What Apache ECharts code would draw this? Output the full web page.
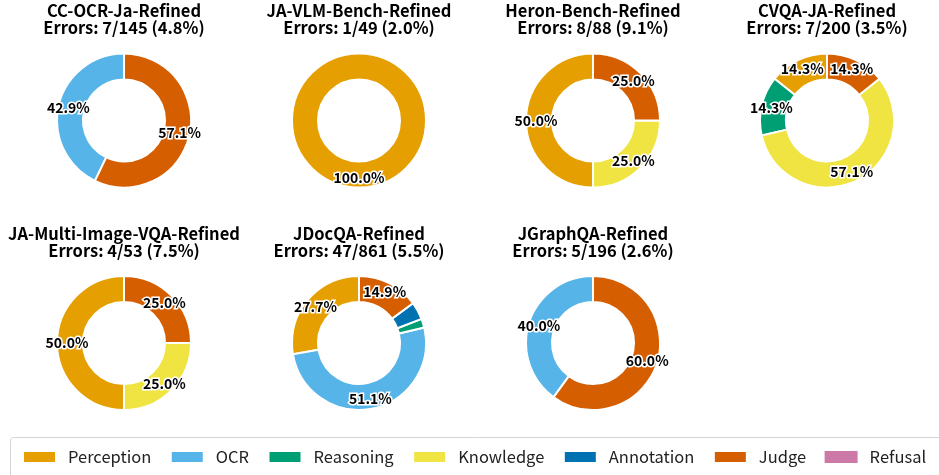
<!DOCTYPE html>
<html>
<head>
<meta charset="utf-8">
<script src="https://cdn.jsdelivr.net/npm/echarts@6/dist/echarts.min.js"></script>
<style>
html,body{margin:0;padding:0;background:#fff;}
#chart{width:939px;height:475px;}
</style>
</head>
<body>
<div id="chart"></div>
<script>
// ---- data ----
var categories = ['Perception', 'OCR', 'Reasoning', 'Knowledge', 'Annotation', 'Judge', 'Refusal'];
var colors = ['#E69F00', '#56B4E9', '#009E73', '#F0E442', '#0072B2', '#D55E00', '#CC79A7'];
var datasetNames = ['CC-OCR-Ja-Refined', 'JA-VLM-Bench-Refined', 'Heron-Bench-Refined', 'CVQA-JA-Refined',
                    'JA-Multi-Image-VQA-Refined', 'JDocQA-Refined', 'JGraphQA-Refined'];
var totals = [145, 49, 88, 200, 53, 861, 196];
// error counts per category, one entry per dataset
var perception = [0, 1, 4, 1, 2, 13, 0];
var ocr        = [3, 0, 0, 0, 0, 24, 2];
var reasoning  = [0, 0, 0, 1, 0, 1, 0];
var knowledge  = [0, 0, 2, 4, 1, 0, 0];
var annotation = [0, 0, 0, 0, 0, 2, 0];
var judge      = [4, 0, 2, 1, 1, 7, 3];
var refusal    = [0, 0, 0, 0, 0, 0, 0];
var counts = [perception, ocr, reasoning, knowledge, annotation, judge, refusal];

// ---- layout ----
var colX = [124, 359, 593, 827];
var rowY = [120.5, 343];
var titleTop = [2.5, 225.5];
var rOuter = 67, rInner = 41;

var titles = [], series = [];
datasetNames.forEach(function (name, i) {
  var col = i % 4, row = Math.floor(i / 4);
  var err = 0;
  counts.forEach(function (arr) { err += arr[i]; });
  titles.push({
    text: name + '\nErrors: ' + err + '/' + totals[i] + ' (' + (err / totals[i] * 100).toFixed(1) + '%)',
    left: colX[col], top: titleTop[row], textAlign: 'center', padding: 0,
    textStyle: { fontFamily: 'Noto Sans CJK JP', fontWeight: 'bold', fontSize: 16.5, lineHeight: 16.5, color: '#000' }
  });
  var data = [];
  categories.forEach(function (cat, k) {
    var v = counts[k][i];
    if (v > 0) {
      var pct = v / err * 100;
      data.push({
        name: cat, value: v,
        itemStyle: { color: colors[k] },
        label: { show: pct >= 5, formatter: pct.toFixed(1) + '%' }
      });
    }
  });
  series.push({
    type: 'pie', center: [colX[col], rowY[row]], radius: [rInner, rOuter],
    startAngle: 90, clockwise: false, avoidLabelOverlap: false, silent: true, animation: false,
    itemStyle: { borderColor: '#fff', borderWidth: 2 },
    label: {
      position: 'inside', color: '#000', fontFamily: 'Noto Sans CJK JP', fontWeight: 'bold', fontSize: 14,
      textBorderColor: '#fff', textBorderWidth: 3
    },
    labelLine: { show: false },
    data: data
  });
});
// legend-only entry so that every category appears in the legend
series.push({
  type: 'pie', center: [-200, -200], radius: [0, 0], silent: true, animation: false,
  label: { show: false }, labelLine: { show: false },
  data: categories.map(function (c, k) { return { name: c, value: 0, itemStyle: { color: colors[k] } }; })
});

var chart = echarts.init(document.getElementById('chart'), null, { renderer: 'canvas' });
chart.setOption({
  backgroundColor: '#fff',
  animation: false,
  title: titles,
  legend: {
    data: categories, left: 22, top: 447, padding: 0, width: 1000,
    itemWidth: 33, itemHeight: 12, itemGap: 18.5, icon: 'rect', selectedMode: false,
    textStyle: { fontFamily: 'Noto Sans CJK JP', fontSize: 16.5, color: '#222', lineHeight: 20, padding: [0, 0, 0, 7] }
  },
  graphic: [{
    type: 'rect', shape: { x: 10.5, y: 437.5, width: 940, height: 60, r: 3 },
    style: { fill: 'none', stroke: '#d4d4d4', lineWidth: 1 }, silent: true
  }],
  series: series
});
</script>
</body>
</html>
